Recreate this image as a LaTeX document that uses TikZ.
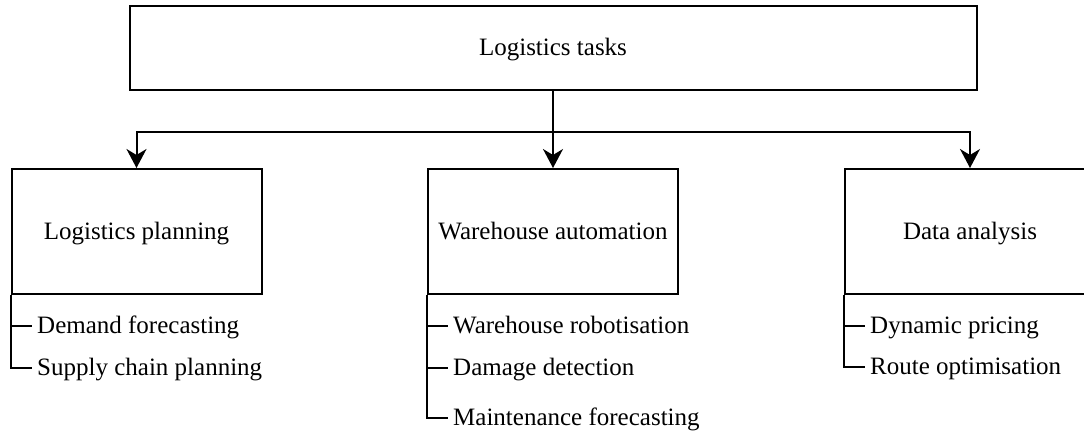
\documentclass[tikz,border=0pt]{standalone}
\usepackage{fontspec}
\setmainfont{Liberation Serif}
\usetikzlibrary{arrows.meta}
\begin{document}
\begin{tikzpicture}[x=1pt,y=-1pt,
  ln/.style={line width=2pt,draw=black},
  txt/.style={font=\fontsize{25}{30}\selectfont,text height=17pt,text depth=2pt},
  box/.style={ln,txt,rectangle,inner sep=0pt,minimum width=250pt,minimum height=125pt},
  item/.style={txt,anchor=west,inner sep=0pt,inner xsep=5pt},
  arr/.style={ln,-{Stealth[length=19pt,width=20pt,inset=6pt]}}]
\useasboundingbox (0,0) rectangle (1084,432);
\node[ln,txt,rectangle,inner sep=0pt,minimum width=847pt,minimum height=84pt] (top) at (553,48) {Logistics tasks};
\node[box] (lp) at (136.5,231.5) {Logistics planning};
\node[box] (wa) at (553,231.5) {Warehouse automation};
\node[box] (da) at (970,231.5) {Data analysis};
\coordinate (bar) at (553,132);
\draw[arr] (top.south) -- (wa.north);
\draw[ln] (top.south) -- (bar);
\draw[arr] (bar) -| (lp.north);
\draw[arr] (bar) -| (da.north);
% items
\node[item] (d1) at (32,326) {Demand forecasting};
\node[item] (d2) at (32,368) {Supply chain planning};
\node[item] (w1) at (448,326) {Warehouse robotisation};
\node[item] (w2) at (448,368) {Damage detection};
\node[item] (w3) at (448,418) {Maintenance forecasting};
\node[item] (a1) at (865,326) {Dynamic pricing};
\node[item] (a2) at (865,367) {Route optimisation};
\draw[ln] (lp.south west) |- (d1.west);
\draw[ln] (lp.south west) |- (d2.west);
\draw[ln] (wa.south west) |- (w1.west);
\draw[ln] (wa.south west) |- (w2.west);
\draw[ln] (wa.south west) |- (w3.west);
\draw[ln] (da.south west) |- (a1.west);
\draw[ln] (da.south west) |- (a2.west);
\end{tikzpicture}
\end{document}
